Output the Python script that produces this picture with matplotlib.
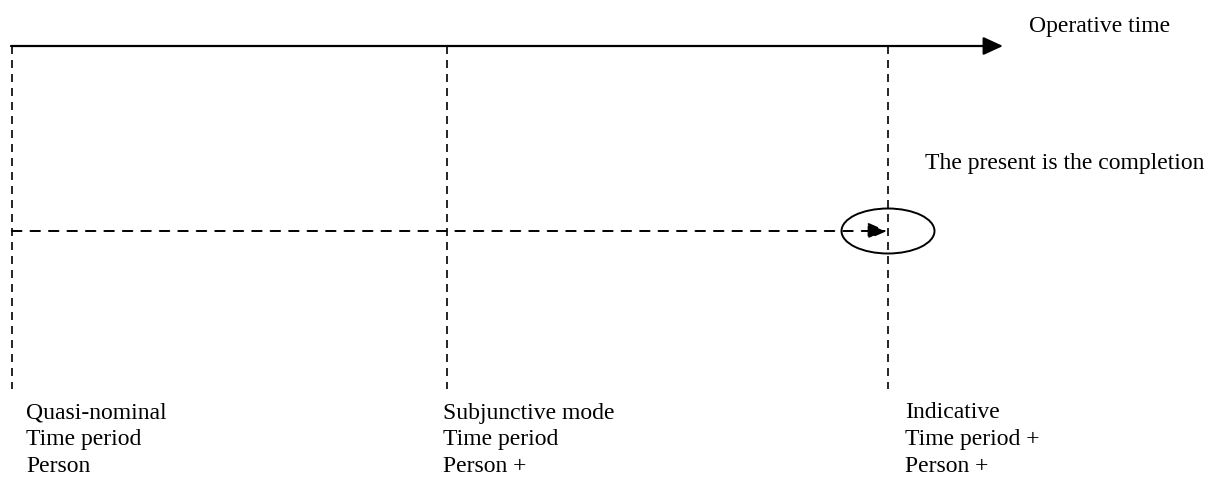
import matplotlib
matplotlib.use("Agg")
import matplotlib.pyplot as plt
from matplotlib.patches import Ellipse

# positions in pixel space of the original picture
stage_x = [12, 447, 888]
stage_labels = [
    ["Quasi-nominal", "Time period", "Person"],
    ["Subjunctive mode", "Time period", "Person +"],
    ["Indicative", "Time period +", "Person +"],
]
label_x = [26, 443, 905]
time_axis_y = 46
present_y = 231

plt.rcParams["font.family"] = ["Liberation Serif", "DejaVu Serif"]

fig = plt.figure(figsize=(12.1, 4.79), dpi=100)
ax = fig.add_axes([0, 0, 1, 1])
ax.set_xlim(0, 1210)
ax.set_ylim(479, 0)
ax.axis("off")

fs = 17

# operative time axis
ax.annotate("", xy=(1003, time_axis_y), xytext=(11, time_axis_y),
            arrowprops=dict(arrowstyle="-|>,head_length=1.2,head_width=0.55",
                            color="black", lw=1.6, shrinkA=0, shrinkB=0))
ax.text(1029, 26, "Operative time", fontsize=fs, va="center", ha="left")

# vertical dashed lines
for x in stage_x:
    ax.plot([x, x], [time_axis_y, 389], color="black", lw=1.2,
            linestyle=(0, (4.8, 3.6)))

# dashed arrow towards the present
ax.annotate("", xy=(887, present_y), xytext=(12, present_y),
            arrowprops=dict(arrowstyle="-|>,head_length=1.15,head_width=0.5",
                            color="black", lw=1.4, linestyle=(0, (4.9, 4.6)),
                            shrinkA=0, shrinkB=0))
ax.add_patch(Ellipse((888, present_y), 93, 45, fill=False, edgecolor="black", lw=1.4))
ax.text(925, 164, "The present is the completion", fontsize=fs, va="center", ha="left")

# stage labels
for x, lines in zip(label_x, stage_labels):
    for i, s in enumerate(lines):
        ax.text(x, 413 + i * 26.5, s, fontsize=fs, va="center", ha="left")

fig.savefig("out.png", dpi=100)
